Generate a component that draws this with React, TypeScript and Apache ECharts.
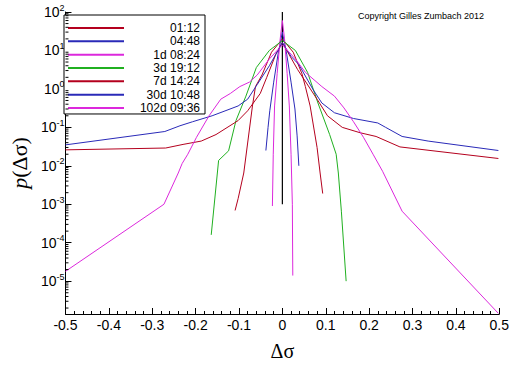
import React, { useEffect, useRef } from "react";
import * as echarts from "echarts";

// ---- data (x = Δσ, y = p(Δσ)) ----
const names = ["01:12", "04:48", "1d 08:24", "3d 19:12", "7d 14:24", "30d 10:48", "102d 09:36"];
const colors = ["#b4001e", "#2a2ab8", "#dc28dc", "#20b020", "#b4001e", "#2a2ab8", "#dc28dc"];

const s0112: number[][] = [
  [-0.109, 6.9e-4], [-0.102, 1.4e-3], [-0.089, 6.5e-3], [-0.069, 0.36], [-0.062, 1.15], [-0.047, 2.3],
  [-0.025, 9], [0, 20], [0.025, 9], [0.045, 2.5], [0.053, 1.15], [0.064, 0.36], [0.08, 0.03],
  [0.087, 6.5e-3], [0.093, 1.9e-3],
];
const s0448: number[][] = [
  [-0.038, 0.025], [-0.033, 0.1], [-0.029, 0.27], [-0.02, 1.5], [-0.01, 8], [0, 30], [0.01, 8],
  [0.02, 1.5], [0.029, 0.3], [0.034, 0.06], [0.038, 0.01],
];
const s1d: number[][] = [
  [-0.023, 9e-4], [-0.021, 0.02], [-0.018, 0.36], [-0.012, 2.5], [-0.005, 20], [0, 60], [0.005, 20],
  [0.011, 2.5], [0.016, 0.36], [0.02, 0.02], [0.023, 1e-3], [0.024, 1.4e-5],
];
const s3d: number[][] = [
  [-0.164, 1.6e-4], [-0.147, 0.0138], [-0.124, 0.0245], [-0.107, 0.15], [-0.084, 0.65], [-0.06, 3.6],
  [-0.03, 10], [0, 18], [0.03, 10], [0.058, 2.7], [0.082, 0.43], [0.109, 0.065], [0.124, 0.02],
  [0.129, 6.5e-3], [0.136, 6.6e-4], [0.147, 1e-5],
];
const s7d: number[][] = [
  [-0.5, 0.026], [-0.269, 0.029], [-0.229, 0.036], [-0.187, 0.044], [-0.153, 0.065], [-0.102, 0.15],
  [-0.08, 0.27], [-0.051, 0.76], [-0.036, 2.0], [-0.015, 8], [0, 16], [0.015, 8], [0.035, 3.2],
  [0.08, 0.54], [0.104, 0.2], [0.138, 0.1], [0.18, 0.072], [0.216, 0.058], [0.271, 0.031], [0.498, 0.0155],
];
const s30d: number[][] = [
  [-0.5, 0.035], [-0.271, 0.078], [-0.236, 0.11], [-0.207, 0.14], [-0.162, 0.2], [-0.102, 0.36],
  [-0.08, 0.54], [-0.058, 1.3], [-0.03, 4], [0, 16], [0.02, 7], [0.038, 4.3], [0.071, 0.95],
  [0.091, 0.43], [0.12, 0.24], [0.164, 0.17], [0.22, 0.13], [0.238, 0.1], [0.276, 0.058],
  [0.336, 0.044], [0.498, 0.025],
];
const s102d: number[][] = [
  [-0.5, 1.8e-5], [-0.273, 1e-3], [-0.24, 6.5e-3], [-0.231, 0.0115], [-0.218, 0.02], [-0.198, 0.055],
  [-0.169, 0.2], [-0.142, 0.54], [-0.12, 0.76], [-0.098, 1.15], [-0.076, 1.5], [-0.058, 2.3],
  [-0.03, 6], [0, 14], [0.03, 6], [0.053, 2.7], [0.091, 1.15], [0.12, 0.65], [0.142, 0.32],
  [0.164, 0.14], [0.187, 0.055], [0.209, 0.02], [0.231, 0.0072], [0.276, 6.6e-4], [0.498, 1.45e-6],
];
const centerLine: number[][] = [[0, 100], [0, 0.001]];

const seriesData = [s0112, s0448, s1d, s3d, s7d, s30d, s102d];

const xMin = -0.5;
const xMax = 0.5;
const yMin = 1.4e-6;
const yMax = 100;

// log minor tick positions (2..9 x 10^n)
const minorTickValues: number[][] = [];
for (let n = -6; n <= 1; n++) {
  for (let k = 2; k <= 9; k++) {
    const v = k * Math.pow(10, n);
    if (v >= yMin && v <= yMax) minorTickValues.push([xMin, v]);
  }
}

const SANS = "Liberation Sans";
const SERIF = "Liberation Serif";

export default function App() {
  const ref = useRef<HTMLDivElement>(null);
  useEffect(() => {
    if (!ref.current) return;
    const chart = echarts.init(ref.current, null, { renderer: "svg" });
    const lineSeries: any[] = seriesData.map((d, i) => ({
      type: "line",
      name: names[i],
      data: d,
      symbol: "none",
      showSymbol: false,
      lineStyle: { color: colors[i], width: 1 },
      itemStyle: { color: colors[i] },
      z: 3,
    }));
    lineSeries.push({
      type: "line",
      name: "center",
      data: centerLine,
      symbol: "none",
      lineStyle: { color: "#000", width: 1.2 },
      z: 2,
    });
    lineSeries.push({
      type: "custom",
      name: "minorTicks",
      data: minorTickValues,
      silent: true,
      clip: false,
      renderItem: (params: any, api: any) => {
        const p = api.coord([api.value(0), api.value(1)]);
        return {
          type: "line",
          shape: { x1: p[0], y1: p[1], x2: p[0] + 3, y2: p[1] },
          style: { stroke: "#000", lineWidth: 1 },
        };
      },
      z: 5,
    });
    chart.setOption({
      animation: false,
      backgroundColor: "#fff",
      grid: { left: 51, right: 11, top: 12, bottom: 39, containLabel: false },
      legend: {
        data: names,
        orient: "vertical",
        left: 64,
        top: 15,
        itemWidth: 56,
        itemHeight: 14,
        itemGap: 1.33,
        itemTextGap: 5,
        padding: [7, 5, 0, 3],
        borderColor: "#000",
        borderWidth: 1,
        backgroundColor: "#fff",
        selectedMode: false,
        itemStyle: { opacity: 0, borderWidth: 0 },
        formatter: (n: string) => `{t|${n}}`,
        textStyle: {
          fontFamily: SANS,
          fontSize: 12,
          color: "#000",
          rich: { t: { width: 71, align: "right", fontFamily: SANS, fontSize: 12, color: "#000", lineHeight: 14 } },
        },
      },
      xAxis: {
        type: "value",
        min: xMin,
        max: xMax,
        interval: 0.1,
        name: "Δσ",
        nameLocation: "middle",
        nameGap: 27,
        nameTextStyle: { fontFamily: SERIF, fontSize: 20, color: "#000" },
        axisLine: { show: true, onZero: false, lineStyle: { color: "#000", width: 1 } },
        axisTick: { show: true, inside: true, length: 6, lineStyle: { color: "#000" } },
        minorTick: { show: true, splitNumber: 5, length: 3, lineStyle: { color: "#000" } },
        splitLine: { show: false },
        axisLabel: {
          fontFamily: SANS,
          fontSize: 14,
          color: "#000",
          margin: 4,
          formatter: (v: number) => (Math.abs(v) < 1e-9 ? "0" : v.toFixed(1)),
        },
      },
      yAxis: {
        type: "log",
        logBase: 10,
        min: yMin,
        max: yMax,
        name: "{i|p}(Δσ)",
        nameLocation: "middle",
        nameGap: 22,
        nameTextStyle: {
          fontFamily: SERIF,
          fontSize: 22,
          color: "#000",
          rich: { i: { fontFamily: SERIF, fontStyle: "italic", fontSize: 22, color: "#000" } },
        },
        axisLine: { show: true, onZero: false, lineStyle: { color: "#000", width: 1 } },
        axisTick: { show: true, inside: true, length: 6, lineStyle: { color: "#000" } },
        splitLine: { show: false },
        axisLabel: {
          showMinLabel: false,
          margin: 1,
          color: "#000",
          formatter: (v: number) => {
            const e = Math.round(Math.log10(v));
            return `{b|10}{s|${e}}`;
          },
          rich: {
            b: { fontFamily: SANS, fontSize: 14, color: "#000" },
            s: { fontFamily: SANS, fontSize: 9, color: "#000", padding: [0, 0, 9, 0] },
          },
        },
      },
      graphic: [
        {
          type: "text",
          left: 358,
          top: 11,
          style: { text: "Copyright Gilles Zumbach 2012", fontFamily: SANS, fontSize: 9, fill: "#000" },
        },
      ],
      series: lineSeries,
    });
    return () => chart.dispose();
  }, []);
  return <div ref={ref} style={{ position: "absolute", left: 0, top: 0, width: 512, height: 366 }} />;
}
